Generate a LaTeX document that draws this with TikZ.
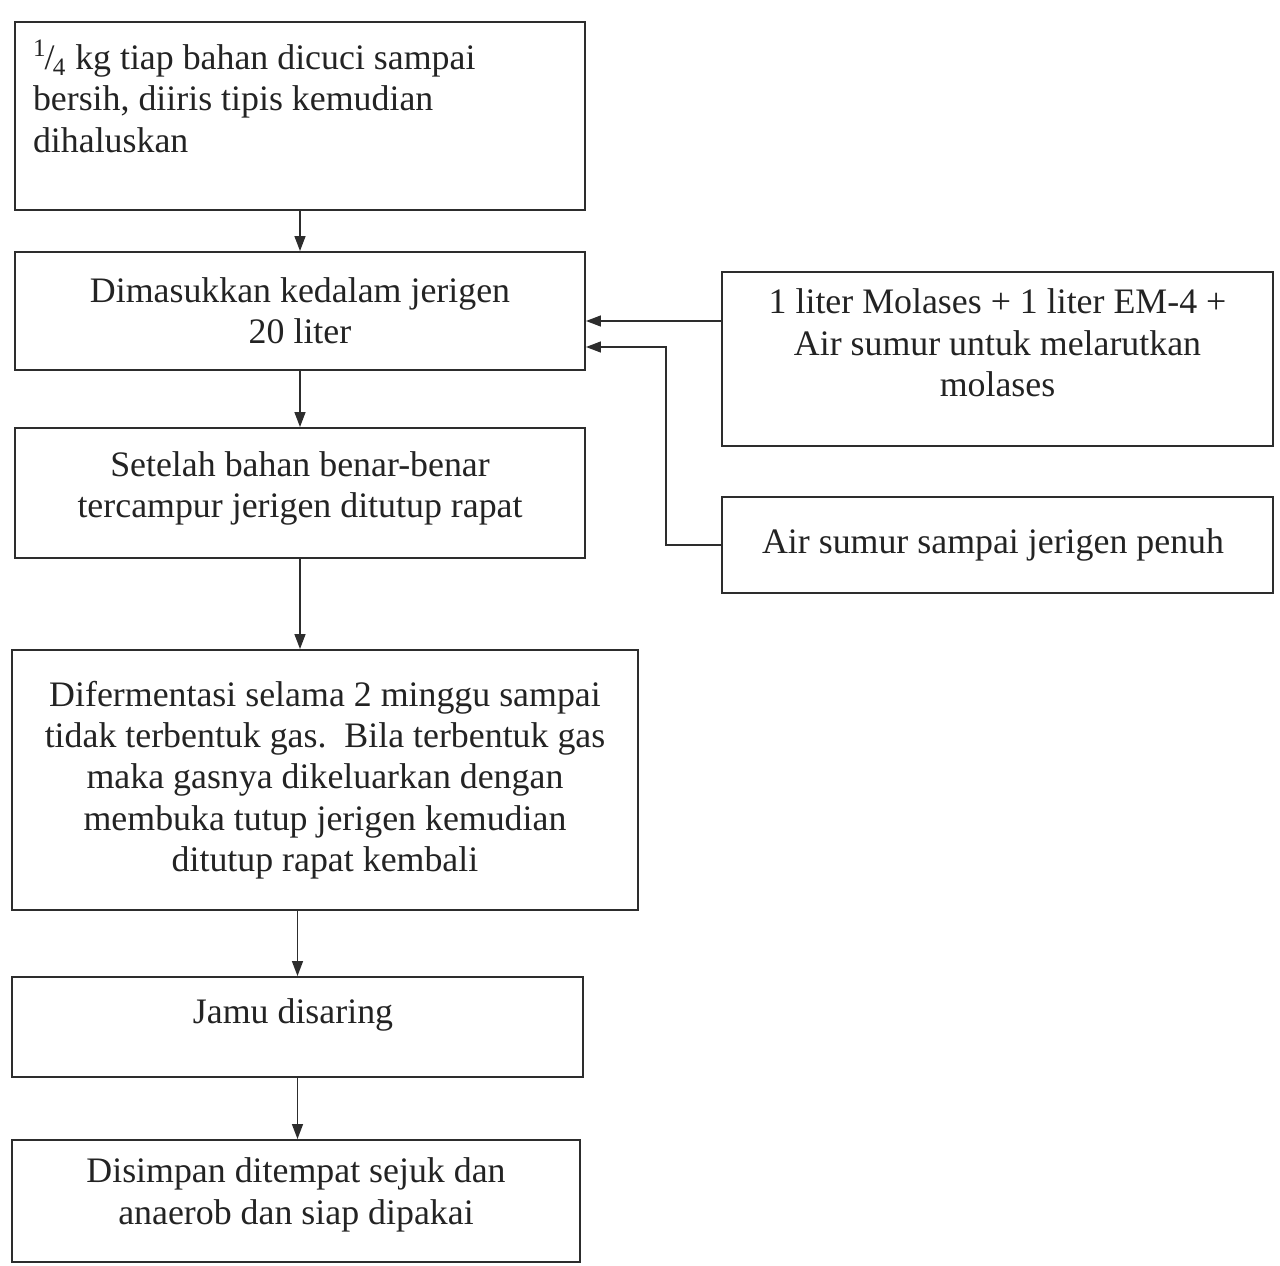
\documentclass[tikz,border=0pt]{standalone}
\usepackage{fontspec}
\setmainfont{Liberation Serif}
\usetikzlibrary{
  arrows.meta,
  positioning,
  calc
}
\definecolor{linecolor}{RGB}{45, 45, 45}
\definecolor{labelcolor}{RGB}{35, 35, 35}
\tikzset{
stepbox/.style={
  draw=linecolor,
  line width=1.1pt,
  align=center,
  inner sep=2mm,
  font=\fontsize{20.4}{23.5}\selectfont,
  text=labelcolor
},
arrow/.style={
  -{Triangle[length=3mm,width=2.2mm]},
  line width=0.8pt,
  draw=linecolor
}
}

\begin{document}
\begin{tikzpicture}
  \useasboundingbox (0,0) rectangle (25.6,-25.32);

  % --- main column ---
  \node[stepbox, minimum width=11.4cm, minimum height=3.76cm, align=left] (b1) at (6.0,-2.32) {
      \parbox[c][3.05cm][t]{10.5cm}{\raggedright
      \textsuperscript{1}\kern-1pt/\kern-1pt\textsubscript{4} kg tiap bahan dicuci sampai\\
      bersih, diiris tipis kemudian\\
      dihaluskan}
    };
  \node[stepbox, minimum width=11.4cm, minimum height=2.36cm] (b2) at (6.0,-6.22) {
      Dimasukkan kedalam jerigen\\
      20 liter
    };
  \node[stepbox, minimum width=11.4cm, minimum height=2.6cm, text depth=0.35cm] (b3) at (6.0,-9.86) {
      Setelah bahan benar-benar\\
      tercampur jerigen ditutup rapat
    };
  \node[stepbox, minimum width=12.52cm, minimum height=5.2cm] (b4) at (6.5,-15.6) {
      Difermentasi selama 2 minggu sampai\\
      tidak terbentuk gas.\ \ Bila terbentuk gas\\
      maka gasnya dikeluarkan dengan\\
      membuka tutup jerigen kemudian\\
      ditutup rapat kembali
    };
  \node[stepbox, minimum width=11.42cm, minimum height=2.0cm, text depth=0.62cm] (b5) at (5.95,-20.54) {
      Jamu disaring
    };
  \node[stepbox, minimum width=11.36cm, minimum height=2.44cm, text depth=0.4cm] (b6) at (5.92,-24.02) {
      Disimpan ditempat sejuk dan\\
      anaerob dan siap dipakai
    };

  \draw[arrow] (b1.south) -- (b2.north);
  \draw[arrow] (b2.south) -- (b3.north);
  \draw[arrow] (b3.south) -- (b3.south |- b4.north);
  \draw[arrow] (b5.north |- b4.south) -- (b5.north);
  \draw[arrow] (b5.south) -- (b5.south |- b6.north);

  % --- inputs ---
  \node[stepbox, minimum width=11.02cm, minimum height=3.48cm, text depth=0.65cm] (inA) at (19.95,-7.18) {
      1 liter Molases + 1 liter EM-4 +\\
      Air sumur untuk melarutkan\\
      molases
    };
  \node[stepbox, minimum width=11.02cm, minimum height=1.92cm] (inB) at (19.95,-10.9) {
      Air sumur sampai jerigen penuh
    };

  \coordinate (endA) at ($(b2.east)+(0,-0.2)$);
  \coordinate (endB) at ($(b2.east)+(0,-0.72)$);
  \draw[arrow] (inA.west |- endA) -- (endA);
  \draw[arrow] (inB.west) -- ++(-1.1,0) |- (endB);
\end{tikzpicture}
\end{document}
